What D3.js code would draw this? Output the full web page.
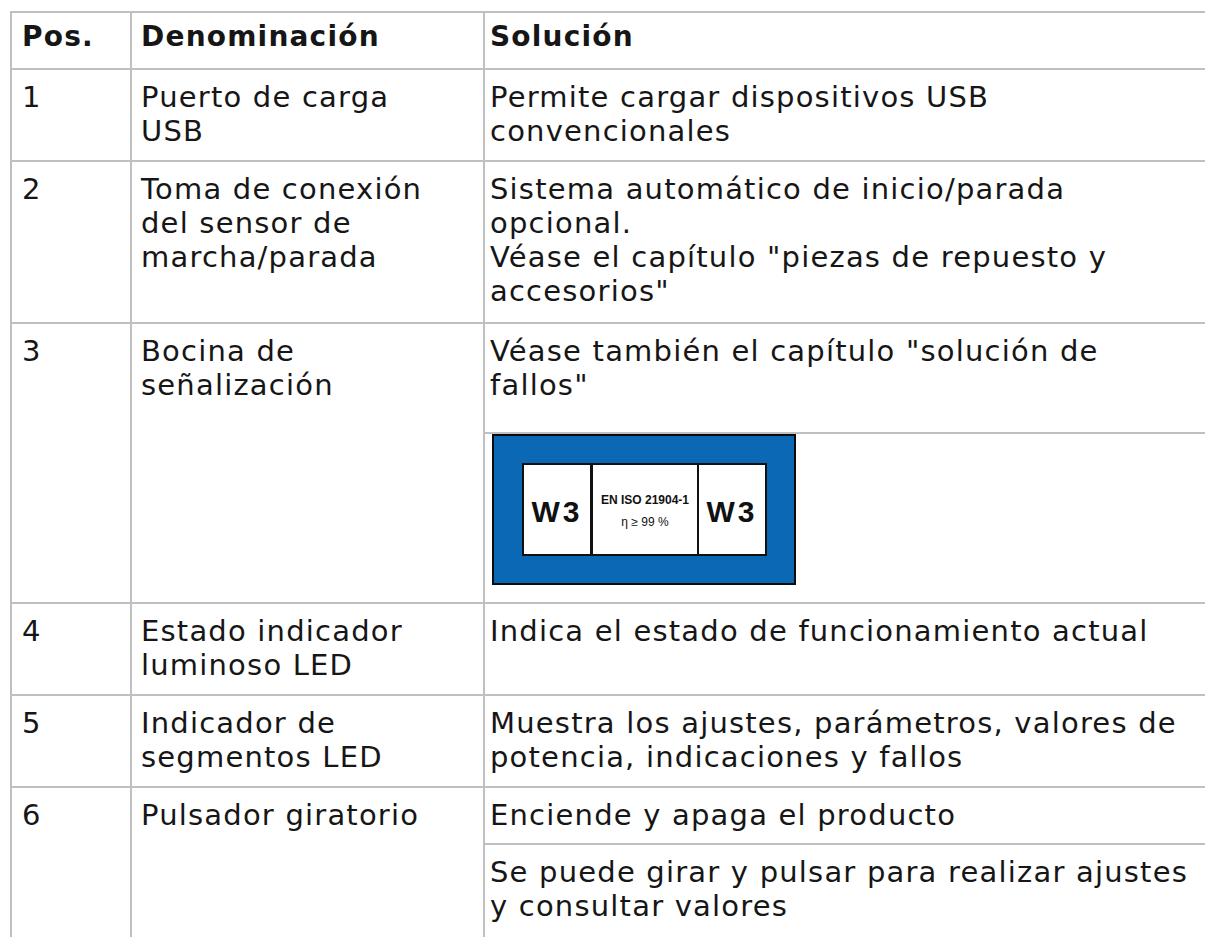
<!DOCTYPE html>
<html>
<head>
<meta charset="utf-8">
<script src="https://cdn.jsdelivr.net/npm/d3@7"></script>
<style>
  html, body { margin: 0; padding: 0; background: #ffffff; }
  svg { display: block; }
</style>
</head>
<body>
<script>
// ---------- data ----------
const headers = ["Pos.", "Denominación", "Solución"];
const positions = ["1", "2", "3", "4", "5", "6"];
const designations = [
  ["Puerto de carga", "USB"],
  ["Toma de conexión", "del sensor de", "marcha/parada"],
  ["Bocina de", "señalización"],
  ["Estado indicador", "luminoso LED"],
  ["Indicador de", "segmentos LED"],
  ["Pulsador giratorio"]
];
// each row: list of sub-cells; a sub-cell is a list of paragraphs (list of lines) or "BADGE"
const solutions = [
  [[["Permite cargar dispositivos USB", "convencionales"]]],
  [[["Sistema automático de inicio/parada", "opcional."], ["Véase el capítulo \"piezas de repuesto y", "accesorios\""]]],
  [[["Véase también el capítulo \"solución de", "fallos\""]], "BADGE"],
  [[["Indica el estado de funcionamiento actual"]]],
  [[["Muestra los ajustes, parámetros, valores de", "potencia, indicaciones y fallos"]]],
  [[["Enciende y apaga el producto"]], [["Se puede girar y pulsar para realizar ajustes", "y consultar valores"]]]
];
const badgeSide = "W3";
const badgeCenter = ["EN ISO 21904-1", "η ≥ 99 %"];

// ---------- layout ----------
const W = 1205, H = 937;
const colEdges = [11, 131, 484, W];
const textX = [22, 141, 490];
const TOP = 12, HEAD_H = 57, LH = 34, FIRST = 38;
const CELL_PAD = 22, CELL_STEP = 35, BADGE_H = 170;
const GAP_BEFORE_IMAGE = 18;
const FONT = "'DejaVu Sans', sans-serif";
const FS = 29, LS = 1.2;
const LINE = "#c0c0c0";
const INK = "#161616";

function cellHeight(paras) {
  const n = d3.sum(paras, p => p.length);
  return CELL_PAD + n * CELL_STEP;
}

const svg = d3.select("body").append("svg")
  .attr("width", W).attr("height", H)
  .attr("viewBox", `0 0 ${W} ${H}`);
svg.append("rect").attr("width", W).attr("height", H).attr("fill", "#fff");

const hLines = [];      // {y, x0}
const texts = [];       // {x, y, t, bold}
const badges = [];      // {x, y}

// header
hLines.push({ y: TOP, x0: colEdges[0] });
headers.forEach((h, i) => texts.push({ x: textX[i], y: TOP + 34, t: h, bold: true }));
let y = TOP + HEAD_H;
hLines.push({ y, x0: colEdges[0] });

positions.forEach((pos, r) => {
  const leftH = cellHeight([designations[r]]);
  texts.push({ x: textX[0], y: y + FIRST, t: pos });
  designations[r].forEach((line, k) => texts.push({ x: textX[1], y: y + FIRST + k * LH, t: line }));
  let sy = y;
  const subs = solutions[r];
  subs.forEach((sub, s) => {
    if (s > 0) hLines.push({ y: sy, x0: colEdges[2] });
    if (sub === "BADGE") {
      badges.push({ x: colEdges[2] + 9, y: sy + 2 });
      sy += BADGE_H;
    } else {
      let k = 0;
      sub.forEach(para => {
        para.forEach(line => {
          texts.push({ x: textX[2], y: sy + FIRST + k * LH, t: line });
          k++;
        });
      });
      sy += cellHeight(sub) + (subs[s + 1] === "BADGE" ? GAP_BEFORE_IMAGE : 0);
    }
  });
  y = Math.max(y + leftH, sy);
  // the last row continues past the visible page, so no closing border
  if (r < positions.length - 1) hLines.push({ y, x0: colEdges[0] });
});

// grid lines
svg.append("g").selectAll("line.h").data(hLines).join("line")
  .attr("x1", d => d.x0).attr("x2", W)
  .attr("y1", d => d.y).attr("y2", d => d.y)
  .attr("stroke", LINE).attr("stroke-width", 2);
svg.append("g").selectAll("line.v").data(colEdges.slice(0, 3)).join("line")
  .attr("x1", d => d).attr("x2", d => d)
  .attr("y1", TOP - 1).attr("y2", H + 5)
  .attr("stroke", LINE).attr("stroke-width", 2);

// texts
svg.append("g").selectAll("text").data(texts).join("text")
  .attr("x", d => d.x).attr("y", d => d.y)
  .attr("font-family", FONT)
  .attr("font-size", d => d.bold ? 28 : FS)
  .attr("font-weight", d => d.bold ? 700 : 400)
  .attr("letter-spacing", d => d.bold ? 1.2 : LS)
  .attr("fill", INK)
  .text(d => d.t);

// badge (W3 label)
const bw = 302, bh = 149;
const boxes = [
  { x0: 31, x1: 97, kind: "side" },
  { x0: 100, x1: 204, kind: "center" },
  { x0: 206, x1: 272, kind: "side" }
];
const bg = svg.append("g").selectAll("g.badge").data(badges).join("g")
  .attr("transform", d => `translate(${d.x},${d.y})`);
bg.append("rect").attr("width", bw).attr("height", bh)
  .attr("fill", "#0a68b4").attr("stroke", "#0b0b0b").attr("stroke-width", 2);
bg.append("rect").attr("x", 29).attr("y", 28).attr("width", 245).attr("height", 93)
  .attr("fill", "#111");
bg.selectAll("rect.box").data(boxes).join("rect")
  .attr("x", d => d.x0).attr("y", 30)
  .attr("width", d => d.x1 - d.x0).attr("height", 89)
  .attr("fill", "#fff");
bg.selectAll("text.side").data(boxes.filter(b => b.kind === "side")).join("text")
  .attr("x", d => (d.x0 + d.x1) / 2).attr("y", 87)
  .attr("text-anchor", "middle")
  .attr("font-family", "'Liberation Sans', Arial, sans-serif")
  .attr("font-weight", 700).attr("font-size", 30)
  .attr("letter-spacing", 3)
  .attr("fill", "#111")
  .text(badgeSide);
bg.selectAll("text.center").data(badgeCenter).join("text")
  .attr("x", 152).attr("y", (d, i) => 69 + i * 22)
  .attr("text-anchor", "middle")
  .attr("font-family", "'Liberation Sans', Arial, sans-serif")
  .attr("font-weight", (d, i) => i === 0 ? 700 : 400)
  .attr("font-size", 12)
  .attr("fill", "#111")
  .text(d => d);
</script>
</body>
</html>
